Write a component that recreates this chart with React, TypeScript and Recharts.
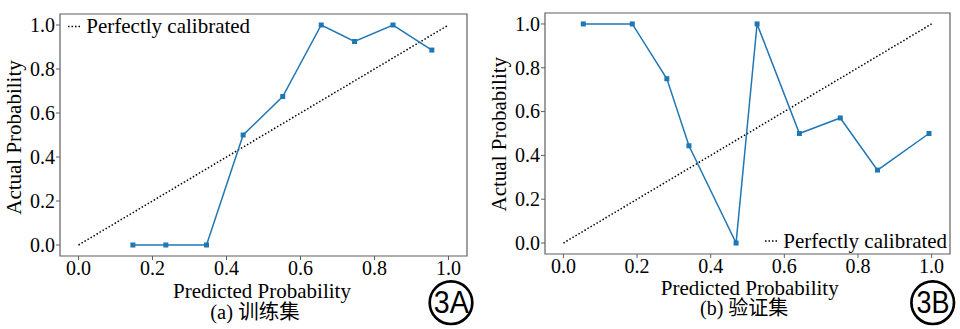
import React from 'react';
import { LineChart, Line, XAxis, YAxis, ReferenceArea, Legend } from 'recharts';

// ---- data ----
const trainPredicted = [0.147, 0.236, 0.346, 0.445, 0.552, 0.656, 0.746, 0.85, 0.955];
const trainActual = [0, 0, 0, 0.5, 0.675, 1.0, 0.925, 1.0, 0.886];
const validPredicted = [0.054, 0.187, 0.281, 0.341, 0.469, 0.526, 0.641, 0.752, 0.853, 0.993];
const validActual = [1.0, 1.0, 0.75, 0.444, 0, 1.0, 0.5, 0.571, 0.333, 0.5];
const diagX = [0, 1];
const diagY = [0, 1];
const axisTicks = [0, 0.2, 0.4, 0.6, 0.8, 1.0];
const xTitle = 'Predicted Probability';
const yTitle = 'Actual Probability';
const legendLabel = 'Perfectly calibrated';
const subtitles = ['(a) 训练集', '(b) 验证集'];
const badges = ['3A', '3B'];

const toRows = (xs: number[], ys: number[]) => xs.map((x, i) => ({ x, y: ys[i] }));

const BLUE = '#1f77b4';
const FRAME = '#5f5f5f';
const SERIF = 'Liberation Serif';
const CJK = 'Liberation Serif, Noto Sans CJK SC';

const XTick = (props: any) => {
  const { x, y, payload } = props;
  return (
    <text x={x} y={y} dy="0.71em" textAnchor="middle" fontFamily={SERIF} fontSize={20} fill="#000">
      {Number(payload.value).toFixed(1)}
    </text>
  );
};

const YTick = (props: any) => {
  const { x, y, payload } = props;
  return (
    <text x={x} y={y} dy="0.34em" textAnchor="end" fontFamily={SERIF} fontSize={20} fill="#000">
      {Number(payload.value).toFixed(1)}
    </text>
  );
};

const SquareDot = (props: any) => {
  const { cx, cy, index } = props;
  if (cx == null || cy == null) return <g key={index} />;
  return <rect key={index} x={cx - 2.5} y={cy - 2.5} width={5} height={5} fill={BLUE} />;
};

const makeLegend = (lineY: number) => () => (
  <svg width={190} height={24} style={{ display: 'block', overflow: 'visible' }}>
    <line x1={0} y1={lineY} x2={12.5} y2={lineY} stroke="#000" strokeWidth={1.5} strokeDasharray="1.5 2" />
    <text x={18.3} y={16} fontFamily={SERIF} fontSize={21} fill="#000">{legendLabel}</text>
  </svg>
);

type PanelProps = {
  left: number;
  xs: number[];
  ys: number[];
  yAxisWidth: number;
  margin: { top: number; right: number; bottom: number; left: number };
  legendPos: { left: number; top: number; lineY: number };
};

const Panel = ({ left, xs, ys, yAxisWidth, margin, legendPos }: PanelProps) => (
  <div style={{ position: 'absolute', left, top: 0 }}>
    <LineChart width={480} height={329} margin={margin}>
      <XAxis
        type="number"
        dataKey="x"
        domain={[-0.05, 1.05]}
        ticks={axisTicks}
        tick={XTick}
        tickSize={4}
        tickMargin={1}
        axisLine={false}
        tickLine={{ stroke: FRAME }}
        height={30}
        allowDataOverflow
      />
      <YAxis
        type="number"
        dataKey="y"
        domain={[-0.05, 1.05]}
        ticks={axisTicks}
        tick={YTick}
        tickSize={4}
        tickMargin={1}
        axisLine={false}
        tickLine={{ stroke: FRAME }}
        width={yAxisWidth}
        allowDataOverflow
      />
      <ReferenceArea x1={-0.05} x2={1.05} y1={-0.05} y2={1.05} fill="none" fillOpacity={0} stroke={FRAME} strokeWidth={1.2} ifOverflow="visible" />
      <Line
        data={toRows(diagX, diagY)}
        dataKey="y"
        stroke="#000"
        strokeWidth={1.5}
        strokeDasharray="1.5 2"
        dot={false}
        activeDot={false}
        isAnimationActive={false}
        name={legendLabel}
      />
      <Line
        data={toRows(xs, ys)}
        dataKey="y"
        stroke={BLUE}
        strokeWidth={1.5}
        dot={SquareDot}
        activeDot={false}
        isAnimationActive={false}
      />
      <Legend
        layout="horizontal"
        verticalAlign="middle"
        align="center"
        content={makeLegend(legendPos.lineY)}
        wrapperStyle={{ position: 'absolute', left: legendPos.left, top: legendPos.top, width: 'auto', height: 'auto' }}
      />
    </LineChart>
  </div>
);

export default function App() {
  return (
    <div style={{ position: 'absolute', left: 0, top: 0, width: 960, height: 329, background: '#fff', overflow: 'hidden' }}>
      <Panel
        left={0}
        xs={trainPredicted}
        ys={trainActual}
        yAxisWidth={60}
        margin={{ top: 14, right: 13, bottom: 43, left: 0 }}
        legendPos={{ left: 67.7, top: 17.3, lineY: 9.4 }}
      />
      <Panel
        left={480}
        xs={validPredicted}
        ys={validActual}
        yAxisWidth={65}
        margin={{ top: 13, right: 10, bottom: 45, left: 0 }}
        legendPos={{ left: 285, top: 231.7, lineY: 9 }}
      />
      <svg width={960} height={329} style={{ position: 'absolute', left: 0, top: 0, pointerEvents: 'none' }}>
        <g fontFamily={SERIF} fontSize={21} fill="#000">
          <text x={20.5} y={137.5} textAnchor="middle" transform="rotate(-90 20.5 137.5)">{yTitle}</text>
          <text x={262} y={297.5} textAnchor="middle">{xTitle}</text>
          <text x={255} y={318.5} textAnchor="middle" fontFamily={CJK} fontSize={20.5}>{subtitles[0]}</text>
          <text x={506} y={134.2} textAnchor="middle" transform="rotate(-90 506 134.2)">{yTitle}</text>
          <text x={749.7} y={294.8} textAnchor="middle">{xTitle}</text>
          <text x={744.2} y={314.5} textAnchor="middle" fontFamily={CJK} fontSize={20}>{subtitles[1]}</text>
        </g>
        <g fontFamily="Liberation Sans" fontSize={32} fill="#000">
          <circle cx={451} cy={302.7} r={21.3} fill="none" stroke="#000" strokeWidth={2.7} />
          <text x={451.3} y={313.3} textAnchor="middle" textLength={35} lengthAdjust="spacingAndGlyphs">{badges[0]}</text>
          <circle cx={932.7} cy={302.7} r={21.3} fill="none" stroke="#000" strokeWidth={2.7} />
          <text x={932.9} y={313.3} textAnchor="middle" textLength={33} lengthAdjust="spacingAndGlyphs">{badges[1]}</text>
        </g>
      </svg>
    </div>
  );
}
